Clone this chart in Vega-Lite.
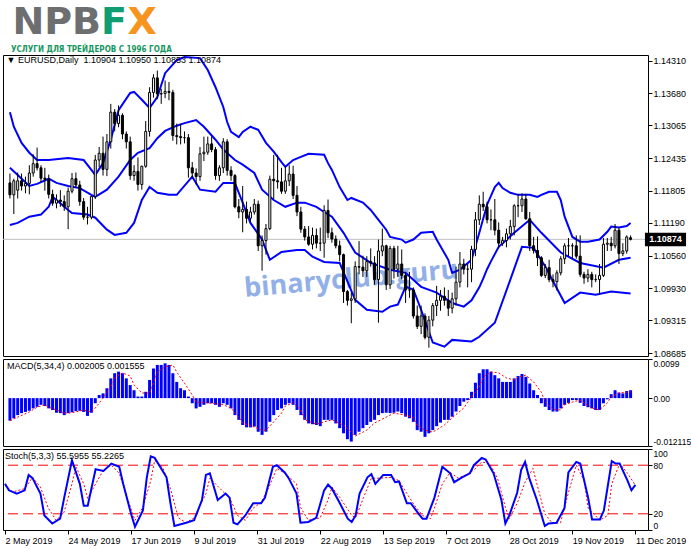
{
  "$schema": "https://vega.github.io/schema/vega-lite/v6.json",
  "description": "EURUSD Daily with Bollinger bands, MACD(5,34,4) and Stoch(5,3,3)",
  "background": "white",
  "padding": 0,
  "spacing": 3,
  "bounds": "flush",
  "datasets": {
    "candles": [
      {"i":0,"o":1.1196,"h":1.1214,"l":1.1166,"c":1.1173,"m":-0.0057},
      {"i":1,"o":1.1173,"h":1.1204,"l":1.1136,"c":1.1200,"m":-0.0051},
      {"i":2,"o":1.1182,"h":1.1216,"l":1.1166,"c":1.1200,"m":-0.0043},
      {"i":3,"o":1.1200,"h":1.1214,"l":1.1181,"c":1.1190,"m":-0.0038},
      {"i":4,"o":1.1190,"h":1.1208,"l":1.1176,"c":1.1195,"m":-0.0035},
      {"i":5,"o":1.1195,"h":1.1230,"l":1.1174,"c":1.1215,"m":-0.0032},
      {"i":6,"o":1.1215,"h":1.1251,"l":1.1208,"c":1.1233,"m":-0.0026},
      {"i":7,"o":1.1233,"h":1.1264,"l":1.1220,"c":1.1225,"m":-0.0022},
      {"i":8,"o":1.1225,"h":1.1230,"l":1.1197,"c":1.1205,"m":-0.0017},
      {"i":9,"o":1.1205,"h":1.1225,"l":1.1181,"c":1.1203,"m":-0.0020},
      {"i":10,"o":1.1203,"h":1.1212,"l":1.1166,"c":1.1174,"m":-0.0026},
      {"i":11,"o":1.1174,"h":1.1183,"l":1.1152,"c":1.1157,"m":-0.0030},
      {"i":12,"o":1.1157,"h":1.1174,"l":1.1147,"c":1.1163,"m":-0.0037},
      {"i":13,"o":1.1163,"h":1.1182,"l":1.1150,"c":1.1160,"m":-0.0038},
      {"i":14,"o":1.1160,"h":1.1172,"l":1.1142,"c":1.1150,"m":-0.0043},
      {"i":15,"o":1.1150,"h":1.1187,"l":1.1107,"c":1.1180,"m":-0.0038},
      {"i":16,"o":1.1180,"h":1.1215,"l":1.1176,"c":1.1204,"m":-0.0036},
      {"i":17,"o":1.1204,"h":1.1216,"l":1.1186,"c":1.1192,"m":-0.0033},
      {"i":18,"o":1.1192,"h":1.1200,"l":1.1152,"c":1.1160,"m":-0.0032},
      {"i":19,"o":1.1160,"h":1.1167,"l":1.1125,"c":1.1130,"m":-0.0035},
      {"i":20,"o":1.1130,"h":1.1150,"l":1.1116,"c":1.1130,"m":-0.0045},
      {"i":21,"o":1.1130,"h":1.1170,"l":1.1126,"c":1.1170,"m":-0.0037},
      {"i":22,"o":1.1170,"h":1.1250,"l":1.1165,"c":1.1240,"m":-0.0013},
      {"i":23,"o":1.1240,"h":1.1265,"l":1.1226,"c":1.1253,"m":0.0008},
      {"i":24,"o":1.1253,"h":1.1285,"l":1.1210,"c":1.1222,"m":0.0012},
      {"i":25,"o":1.1222,"h":1.1290,"l":1.1209,"c":1.1275,"m":0.0025},
      {"i":26,"o":1.1275,"h":1.1348,"l":1.1262,"c":1.1332,"m":0.0050},
      {"i":27,"o":1.1332,"h":1.1338,"l":1.1295,"c":1.1310,"m":0.0063},
      {"i":28,"o":1.1310,"h":1.1345,"l":1.1303,"c":1.1326,"m":0.0067},
      {"i":29,"o":1.1326,"h":1.1330,"l":1.1280,"c":1.1290,"m":0.0063},
      {"i":30,"o":1.1290,"h":1.1295,"l":1.1262,"c":1.1275,"m":0.0050},
      {"i":31,"o":1.1275,"h":1.1285,"l":1.1202,"c":1.1210,"m":0.0033},
      {"i":32,"o":1.1210,"h":1.1230,"l":1.1200,"c":1.1218,"m":0.0020},
      {"i":33,"o":1.1218,"h":1.1245,"l":1.1181,"c":1.1193,"m":0.0004},
      {"i":34,"o":1.1193,"h":1.1229,"l":1.1183,"c":1.1228,"m":0.0004},
      {"i":35,"o":1.1228,"h":1.1315,"l":1.1225,"c":1.1295,"m":0.0016},
      {"i":36,"o":1.1295,"h":1.1380,"l":1.1285,"c":1.1370,"m":0.0046},
      {"i":37,"o":1.1370,"h":1.1405,"l":1.1360,"c":1.1398,"m":0.0075},
      {"i":38,"o":1.1398,"h":1.1412,"l":1.1357,"c":1.1367,"m":0.0084},
      {"i":39,"o":1.1367,"h":1.1377,"l":1.1348,"c":1.1368,"m":0.0084},
      {"i":40,"o":1.1368,"h":1.1393,"l":1.1359,"c":1.1372,"m":0.0088},
      {"i":41,"o":1.1372,"h":1.1390,"l":1.1355,"c":1.1370,"m":0.0084},
      {"i":42,"o":1.1370,"h":1.1375,"l":1.1277,"c":1.1287,"m":0.0063},
      {"i":43,"o":1.1287,"h":1.1310,"l":1.1270,"c":1.1285,"m":0.0041},
      {"i":44,"o":1.1285,"h":1.1310,"l":1.1270,"c":1.1283,"m":0.0025},
      {"i":45,"o":1.1283,"h":1.1295,"l":1.1272,"c":1.1283,"m":0.0020},
      {"i":46,"o":1.1283,"h":1.1290,"l":1.1206,"c":1.1225,"m":0.0004},
      {"i":47,"o":1.1225,"h":1.1236,"l":1.1205,"c":1.1215,"m":-0.0013},
      {"i":48,"o":1.1215,"h":1.1224,"l":1.1193,"c":1.1208,"m":-0.0026},
      {"i":49,"o":1.1208,"h":1.1265,"l":1.1200,"c":1.1252,"m":-0.0022},
      {"i":50,"o":1.1252,"h":1.1285,"l":1.1238,"c":1.1255,"m":-0.0017},
      {"i":51,"o":1.1255,"h":1.1285,"l":1.1250,"c":1.1271,"m":-0.0013},
      {"i":52,"o":1.1271,"h":1.1285,"l":1.1255,"c":1.1260,"m":-0.0013},
      {"i":53,"o":1.1260,"h":1.1265,"l":1.1202,"c":1.1210,"m":-0.0017},
      {"i":54,"o":1.1210,"h":1.1230,"l":1.1200,"c":1.1225,"m":-0.0022},
      {"i":55,"o":1.1225,"h":1.1282,"l":1.1215,"c":1.1275,"m":-0.0013},
      {"i":56,"o":1.1275,"h":1.1280,"l":1.1210,"c":1.1220,"m":-0.0017},
      {"i":57,"o":1.1220,"h":1.1228,"l":1.1200,"c":1.1210,"m":-0.0026},
      {"i":58,"o":1.1210,"h":1.1213,"l":1.1147,"c":1.1150,"m":-0.0043},
      {"i":59,"o":1.1150,"h":1.1165,"l":1.1128,"c":1.1140,"m":-0.0055},
      {"i":60,"o":1.1140,"h":1.1190,"l":1.1101,"c":1.1145,"m":-0.0068},
      {"i":61,"o":1.1145,"h":1.1160,"l":1.1118,"c":1.1128,"m":-0.0074},
      {"i":62,"o":1.1128,"h":1.1150,"l":1.1120,"c":1.1140,"m":-0.0074},
      {"i":63,"o":1.1140,"h":1.1165,"l":1.1135,"c":1.1155,"m":-0.0072},
      {"i":64,"o":1.1155,"h":1.1162,"l":1.1065,"c":1.1075,"m":-0.0085},
      {"i":65,"o":1.1075,"h":1.1095,"l":1.1027,"c":1.1085,"m":-0.0093},
      {"i":66,"o":1.1085,"h":1.1117,"l":1.1058,"c":1.1108,"m":-0.0085},
      {"i":67,"o":1.1108,"h":1.1210,"l":1.1105,"c":1.1203,"m":-0.0060},
      {"i":68,"o":1.1203,"h":1.1250,"l":1.1165,"c":1.1200,"m":-0.0043},
      {"i":69,"o":1.1200,"h":1.1250,"l":1.1185,"c":1.1198,"m":-0.0030},
      {"i":70,"o":1.1198,"h":1.1225,"l":1.1175,"c":1.1180,"m":-0.0026},
      {"i":71,"o":1.1180,"h":1.1228,"l":1.1175,"c":1.1200,"m":-0.0017},
      {"i":72,"o":1.1200,"h":1.1230,"l":1.1190,"c":1.1213,"m":-0.0013},
      {"i":73,"o":1.1213,"h":1.1229,"l":1.1165,"c":1.1172,"m":-0.0017},
      {"i":74,"o":1.1172,"h":1.1190,"l":1.1132,"c":1.1140,"m":-0.0030},
      {"i":75,"o":1.1140,"h":1.1150,"l":1.1100,"c":1.1107,"m":-0.0043},
      {"i":76,"o":1.1107,"h":1.1113,"l":1.1085,"c":1.1092,"m":-0.0055},
      {"i":77,"o":1.1092,"h":1.1113,"l":1.1075,"c":1.1078,"m":-0.0064},
      {"i":78,"o":1.1078,"h":1.1110,"l":1.1068,"c":1.1095,"m":-0.0066},
      {"i":79,"o":1.1095,"h":1.1108,"l":1.1070,"c":1.1080,"m":-0.0068},
      {"i":80,"o":1.1080,"h":1.1110,"l":1.1065,"c":1.1080,"m":-0.0071},
      {"i":81,"o":1.1080,"h":1.1153,"l":1.1052,"c":1.1143,"m":-0.0055},
      {"i":82,"o":1.1143,"h":1.1164,"l":1.1090,"c":1.1100,"m":-0.0055},
      {"i":83,"o":1.1100,"h":1.1110,"l":1.1081,"c":1.1088,"m":-0.0055},
      {"i":84,"o":1.1088,"h":1.1095,"l":1.1070,"c":1.1075,"m":-0.0064},
      {"i":85,"o":1.1075,"h":1.1085,"l":1.1045,"c":1.1058,"m":-0.0076},
      {"i":86,"o":1.1058,"h":1.1060,"l":1.0965,"c":1.0987,"m":-0.0089},
      {"i":87,"o":1.0987,"h":1.0990,"l":1.0960,"c":1.0970,"m":-0.0104},
      {"i":88,"o":1.0970,"h":1.0985,"l":1.0926,"c":1.0973,"m":-0.0110},
      {"i":89,"o":1.0973,"h":1.1045,"l":1.0965,"c":1.1035,"m":-0.0093},
      {"i":90,"o":1.1035,"h":1.1084,"l":1.1020,"c":1.1034,"m":-0.0085},
      {"i":91,"o":1.1034,"h":1.1056,"l":1.1015,"c":1.1027,"m":-0.0076},
      {"i":92,"o":1.1027,"h":1.1055,"l":1.1015,"c":1.1045,"m":-0.0068},
      {"i":93,"o":1.1045,"h":1.1070,"l":1.1035,"c":1.1042,"m":-0.0060},
      {"i":94,"o":1.1042,"h":1.1055,"l":1.1000,"c":1.1010,"m":-0.0055},
      {"i":95,"o":1.1010,"h":1.1087,"l":1.0927,"c":1.1065,"m":-0.0043},
      {"i":96,"o":1.1065,"h":1.1108,"l":1.1055,"c":1.1075,"m":-0.0038},
      {"i":97,"o":1.1075,"h":1.1077,"l":1.0990,"c":1.1000,"m":-0.0037},
      {"i":98,"o":1.1000,"h":1.1075,"l":1.0992,"c":1.1070,"m":-0.0038},
      {"i":99,"o":1.1070,"h":1.1075,"l":1.1012,"c":1.1030,"m":-0.0037},
      {"i":100,"o":1.1030,"h":1.1075,"l":1.1015,"c":1.1040,"m":-0.0034},
      {"i":101,"o":1.1040,"h":1.1068,"l":1.1010,"c":1.1018,"m":-0.0038},
      {"i":102,"o":1.1018,"h":1.1025,"l":1.0965,"c":1.0990,"m":-0.0047},
      {"i":103,"o":1.0990,"h":1.1025,"l":1.0975,"c":1.0990,"m":-0.0051},
      {"i":104,"o":1.0990,"h":1.0995,"l":1.0935,"c":1.0940,"m":-0.0060},
      {"i":105,"o":1.0940,"h":1.0960,"l":1.0915,"c":1.0920,"m":-0.0081},
      {"i":106,"o":1.0920,"h":1.0960,"l":1.0905,"c":1.0940,"m":-0.0085},
      {"i":107,"o":1.0940,"h":1.0945,"l":1.0895,"c":1.0899,"m":-0.0098},
      {"i":108,"o":1.0899,"h":1.0940,"l":1.0879,"c":1.0932,"m":-0.0089},
      {"i":109,"o":1.0932,"h":1.0965,"l":1.0920,"c":1.0960,"m":-0.0081},
      {"i":110,"o":1.0960,"h":1.0998,"l":1.0940,"c":1.0970,"m":-0.0071},
      {"i":111,"o":1.0970,"h":1.0990,"l":1.0950,"c":1.0978,"m":-0.0062},
      {"i":112,"o":1.0978,"h":1.0995,"l":1.0960,"c":1.0970,"m":-0.0055},
      {"i":113,"o":1.0970,"h":1.0990,"l":1.0940,"c":1.0955,"m":-0.0055},
      {"i":114,"o":1.0955,"h":1.0985,"l":1.0945,"c":1.0973,"m":-0.0047},
      {"i":115,"o":1.0973,"h":1.1035,"l":1.0960,"c":1.1005,"m":-0.0034},
      {"i":116,"o":1.1005,"h":1.1063,"l":1.0995,"c":1.1040,"m":-0.0020},
      {"i":117,"o":1.1040,"h":1.1050,"l":1.1020,"c":1.1030,"m":-0.0009},
      {"i":118,"o":1.1030,"h":1.1040,"l":1.0995,"c":1.1030,"m":-0.0005},
      {"i":119,"o":1.1030,"h":1.1075,"l":1.1005,"c":1.1068,"m":0.0016},
      {"i":120,"o":1.1068,"h":1.1140,"l":1.1055,"c":1.1125,"m":0.0039},
      {"i":121,"o":1.1125,"h":1.1172,"l":1.1115,"c":1.1155,"m":0.0063},
      {"i":122,"o":1.1155,"h":1.1179,"l":1.1142,"c":1.1150,"m":0.0073},
      {"i":123,"o":1.1150,"h":1.1160,"l":1.1118,"c":1.1125,"m":0.0073},
      {"i":124,"o":1.1125,"h":1.1145,"l":1.1105,"c":1.1125,"m":0.0067},
      {"i":125,"o":1.1125,"h":1.1165,"l":1.1095,"c":1.1105,"m":0.0058},
      {"i":126,"o":1.1105,"h":1.1120,"l":1.1070,"c":1.1080,"m":0.0050},
      {"i":127,"o":1.1080,"h":1.1092,"l":1.1075,"c":1.1085,"m":0.0041},
      {"i":128,"o":1.1085,"h":1.1108,"l":1.1072,"c":1.1098,"m":0.0041},
      {"i":129,"o":1.1098,"h":1.1125,"l":1.1087,"c":1.1112,"m":0.0041},
      {"i":130,"o":1.1112,"h":1.1155,"l":1.1095,"c":1.1152,"m":0.0050},
      {"i":131,"o":1.1152,"h":1.1175,"l":1.1130,"c":1.1152,"m":0.0056},
      {"i":132,"o":1.1152,"h":1.1176,"l":1.1140,"c":1.1165,"m":0.0061},
      {"i":133,"o":1.1165,"h":1.1175,"l":1.1125,"c":1.1127,"m":0.0054},
      {"i":134,"o":1.1127,"h":1.1140,"l":1.1065,"c":1.1075,"m":0.0037},
      {"i":135,"o":1.1075,"h":1.1092,"l":1.1060,"c":1.1066,"m":0.0020},
      {"i":136,"o":1.1066,"h":1.1093,"l":1.1036,"c":1.1052,"m":0.0008},
      {"i":137,"o":1.1052,"h":1.1055,"l":1.1015,"c":1.1018,"m":-0.0013},
      {"i":138,"o":1.1018,"h":1.1040,"l":1.1013,"c":1.1033,"m":-0.0022},
      {"i":139,"o":1.1033,"h":1.1048,"l":1.1005,"c":1.1010,"m":-0.0030},
      {"i":140,"o":1.1010,"h":1.1020,"l":1.0995,"c":1.1006,"m":-0.0034},
      {"i":141,"o":1.1006,"h":1.1028,"l":1.0989,"c":1.1023,"m":-0.0034},
      {"i":142,"o":1.1023,"h":1.1055,"l":1.1018,"c":1.1050,"m":-0.0026},
      {"i":143,"o":1.1050,"h":1.1080,"l":1.1040,"c":1.1075,"m":-0.0017},
      {"i":144,"o":1.1075,"h":1.1090,"l":1.1055,"c":1.1075,"m":-0.0012},
      {"i":145,"o":1.1075,"h":1.1080,"l":1.1050,"c":1.1075,"m":-0.0005},
      {"i":146,"o":1.1075,"h":1.1095,"l":1.1050,"c":1.1055,"m":-0.0005},
      {"i":147,"o":1.1055,"h":1.1095,"l":1.1015,"c":1.1020,"m":-0.0012},
      {"i":148,"o":1.1020,"h":1.1025,"l":1.1002,"c":1.1013,"m":-0.0020},
      {"i":149,"o":1.1013,"h":1.1030,"l":1.1005,"c":1.1020,"m":-0.0023},
      {"i":150,"o":1.1020,"h":1.1025,"l":1.0995,"c":1.1010,"m":-0.0026},
      {"i":151,"o":1.1010,"h":1.1020,"l":1.1005,"c":1.1010,"m":-0.0030},
      {"i":152,"o":1.1010,"h":1.1040,"l":1.0981,"c":1.1018,"m":-0.0030},
      {"i":153,"o":1.1018,"h":1.1090,"l":1.1015,"c":1.1078,"m":-0.0013},
      {"i":154,"o":1.1078,"h":1.1090,"l":1.1065,"c":1.1080,"m":-0.0003},
      {"i":155,"o":1.1080,"h":1.1092,"l":1.1065,"c":1.1075,"m":0.0010},
      {"i":156,"o":1.1075,"h":1.1117,"l":1.1070,"c":1.1105,"m":0.0020},
      {"i":157,"o":1.1105,"h":1.1110,"l":1.1040,"c":1.1060,"m":0.0014},
      {"i":158,"o":1.1060,"h":1.1080,"l":1.1055,"c":1.1065,"m":0.0012},
      {"i":159,"o":1.1065,"h":1.1095,"l":1.1060,"c":1.1092,"m":0.0018},
      {"i":160,"o":1.10904,"h":1.10950,"l":1.10853,"c":1.10874,"m":0.002005}
    ],
    "bands": [
      {"i":0,"b":"up","v":1.1332},{"i":1,"b":"up","v":1.1304},{"i":3,"b":"up","v":1.1273},{"i":5,"b":"up","v":1.1254},
      {"i":7,"b":"up","v":1.1240},{"i":10,"b":"up","v":1.1240},{"i":15,"b":"up","v":1.1244},{"i":19,"b":"up","v":1.1240},
      {"i":21,"b":"up","v":1.1221},{"i":22,"b":"up","v":1.1211},{"i":24,"b":"up","v":1.1234},{"i":26,"b":"up","v":1.1279},
      {"i":28,"b":"up","v":1.1336},{"i":31,"b":"up","v":1.1369},{"i":32,"b":"up","v":1.1371},{"i":34,"b":"up","v":1.1356},
      {"i":36,"b":"up","v":1.1340},{"i":38,"b":"up","v":1.1361},{"i":40,"b":"up","v":1.1407},{"i":43,"b":"up","v":1.1432},
      {"i":45,"b":"up","v":1.1438},{"i":49,"b":"up","v":1.1436},{"i":51,"b":"up","v":1.1413},{"i":53,"b":"up","v":1.1380},
      {"i":55,"b":"up","v":1.1342},{"i":56,"b":"up","v":1.1313},{"i":57,"b":"up","v":1.1294},{"i":59,"b":"up","v":1.1284},
      {"i":60,"b":"up","v":1.1294},{"i":62,"b":"up","v":1.1304},{"i":64,"b":"up","v":1.1298},{"i":66,"b":"up","v":1.1273},
      {"i":68,"b":"up","v":1.1256},{"i":70,"b":"up","v":1.1236},{"i":71,"b":"up","v":1.1227},{"i":73,"b":"up","v":1.1240},
      {"i":75,"b":"up","v":1.1246},{"i":77,"b":"up","v":1.1252},{"i":81,"b":"up","v":1.1250},{"i":82,"b":"up","v":1.1234},
      {"i":83,"b":"up","v":1.1221},{"i":85,"b":"up","v":1.1188},{"i":87,"b":"up","v":1.1163},{"i":88,"b":"up","v":1.1167},
      {"i":91,"b":"up","v":1.1158},{"i":93,"b":"up","v":1.1144},{"i":95,"b":"up","v":1.1125},{"i":97,"b":"up","v":1.1106},
      {"i":98,"b":"up","v":1.1092},{"i":101,"b":"up","v":1.1087},{"i":102,"b":"up","v":1.1081},{"i":104,"b":"up","v":1.1087},
      {"i":106,"b":"up","v":1.1100},{"i":109,"b":"up","v":1.1102},{"i":110,"b":"up","v":1.1087},{"i":113,"b":"up","v":1.1048},
      {"i":114,"b":"up","v":1.1023},{"i":116,"b":"up","v":1.1029},{"i":119,"b":"up","v":1.1048},{"i":121,"b":"up","v":1.1100},
      {"i":123,"b":"up","v":1.1154},{"i":125,"b":"up","v":1.1188},{"i":126,"b":"up","v":1.1196},{"i":127,"b":"up","v":1.1186},
      {"i":129,"b":"up","v":1.1177},{"i":131,"b":"up","v":1.1173},{"i":134,"b":"up","v":1.1173},{"i":136,"b":"up","v":1.1169},
      {"i":137,"b":"up","v":1.1173},{"i":139,"b":"up","v":1.1179},{"i":141,"b":"up","v":1.1179},{"i":142,"b":"up","v":1.1163},
      {"i":143,"b":"up","v":1.1131},{"i":145,"b":"up","v":1.1092},{"i":147,"b":"up","v":1.1083},{"i":149,"b":"up","v":1.1083},
      {"i":152,"b":"up","v":1.1087},{"i":154,"b":"up","v":1.1102},{"i":155,"b":"up","v":1.1112},{"i":157,"b":"up","v":1.1110},
      {"i":159,"b":"up","v":1.1113},{"i":160,"b":"up","v":1.1119},
      {"i":0,"b":"mid","v":1.1225},{"i":2,"b":"mid","v":1.1211},{"i":5,"b":"mid","v":1.1190},{"i":7,"b":"mid","v":1.1194},
      {"i":10,"b":"mid","v":1.1204},{"i":12,"b":"mid","v":1.1196},{"i":15,"b":"mid","v":1.1190},{"i":18,"b":"mid","v":1.1186},
      {"i":21,"b":"mid","v":1.1173},{"i":22,"b":"mid","v":1.1169},{"i":25,"b":"mid","v":1.1183},{"i":28,"b":"mid","v":1.1208},
      {"i":31,"b":"mid","v":1.1240},{"i":33,"b":"mid","v":1.1254},{"i":36,"b":"mid","v":1.1263},{"i":38,"b":"mid","v":1.1282},
      {"i":40,"b":"mid","v":1.1296},{"i":43,"b":"mid","v":1.1306},{"i":45,"b":"mid","v":1.1311},{"i":48,"b":"mid","v":1.1317},
      {"i":50,"b":"mid","v":1.1304},{"i":53,"b":"mid","v":1.1279},{"i":55,"b":"mid","v":1.1260},{"i":58,"b":"mid","v":1.1240},
      {"i":60,"b":"mid","v":1.1231},{"i":63,"b":"mid","v":1.1215},{"i":65,"b":"mid","v":1.1183},{"i":68,"b":"mid","v":1.1163},
      {"i":71,"b":"mid","v":1.1150},{"i":74,"b":"mid","v":1.1158},{"i":76,"b":"mid","v":1.1158},{"i":79,"b":"mid","v":1.1150},
      {"i":81,"b":"mid","v":1.1140},{"i":83,"b":"mid","v":1.1131},{"i":86,"b":"mid","v":1.1100},{"i":89,"b":"mid","v":1.1062},
      {"i":93,"b":"mid","v":1.1042},{"i":98,"b":"mid","v":1.1029},{"i":102,"b":"mid","v":1.1023},{"i":106,"b":"mid","v":1.0996},
      {"i":110,"b":"mid","v":1.0985},{"i":114,"b":"mid","v":1.0965},{"i":117,"b":"mid","v":1.0958},{"i":119,"b":"mid","v":1.0970},
      {"i":121,"b":"mid","v":1.0995},{"i":122,"b":"mid","v":1.1012},{"i":123,"b":"mid","v":1.1030},{"i":124,"b":"mid","v":1.1045},
      {"i":126,"b":"mid","v":1.1073},{"i":130,"b":"mid","v":1.1100},{"i":134,"b":"mid","v":1.1125},{"i":137,"b":"mid","v":1.1100},
      {"i":142,"b":"mid","v":1.1062},{"i":147,"b":"mid","v":1.1042},{"i":153,"b":"mid","v":1.1033},{"i":157,"b":"mid","v":1.1048},
      {"i":160,"b":"mid","v":1.1052},
      {"i":0,"b":"lo","v":1.1115},{"i":2,"b":"lo","v":1.1119},{"i":5,"b":"lo","v":1.1131},{"i":8,"b":"lo","v":1.1135},
      {"i":10,"b":"lo","v":1.1150},{"i":11,"b":"lo","v":1.1169},{"i":12,"b":"lo","v":1.1163},{"i":15,"b":"lo","v":1.1144},
      {"i":16,"b":"lo","v":1.1138},{"i":20,"b":"lo","v":1.1135},{"i":22,"b":"lo","v":1.1129},{"i":25,"b":"lo","v":1.1106},
      {"i":27,"b":"lo","v":1.1096},{"i":30,"b":"lo","v":1.1100},{"i":32,"b":"lo","v":1.1119},{"i":34,"b":"lo","v":1.1163},
      {"i":36,"b":"lo","v":1.1188},{"i":38,"b":"lo","v":1.1177},{"i":41,"b":"lo","v":1.1173},{"i":43,"b":"lo","v":1.1173},
      {"i":47,"b":"lo","v":1.1208},{"i":49,"b":"lo","v":1.1183},{"i":53,"b":"lo","v":1.1179},{"i":55,"b":"lo","v":1.1196},
      {"i":58,"b":"lo","v":1.1196},{"i":60,"b":"lo","v":1.1158},{"i":62,"b":"lo","v":1.1119},{"i":65,"b":"lo","v":1.1087},
      {"i":67,"b":"lo","v":1.1048},{"i":70,"b":"lo","v":1.1063},{"i":74,"b":"lo","v":1.1067},{"i":76,"b":"lo","v":1.1067},
      {"i":78,"b":"lo","v":1.1054},{"i":81,"b":"lo","v":1.1044},{"i":85,"b":"lo","v":1.1042},{"i":89,"b":"lo","v":1.0971},
      {"i":92,"b":"lo","v":1.0952},{"i":96,"b":"lo","v":1.0948},{"i":98,"b":"lo","v":1.0958},{"i":100,"b":"lo","v":1.0962},
      {"i":102,"b":"lo","v":1.0996},{"i":104,"b":"lo","v":1.0991},{"i":106,"b":"lo","v":1.0952},{"i":109,"b":"lo","v":1.0889},
      {"i":112,"b":"lo","v":1.0881},{"i":114,"b":"lo","v":1.0894},{"i":119,"b":"lo","v":1.0891},{"i":121,"b":"lo","v":1.0900},
      {"i":125,"b":"lo","v":1.0927},{"i":129,"b":"lo","v":1.1010},{"i":132,"b":"lo","v":1.1073},{"i":135,"b":"lo","v":1.1071},
      {"i":138,"b":"lo","v":1.1035},{"i":143,"b":"lo","v":1.0965},{"i":147,"b":"lo","v":1.0985},{"i":151,"b":"lo","v":1.0981},
      {"i":155,"b":"lo","v":1.0987},{"i":160,"b":"lo","v":1.0983}
    ],
    "signal": [
      {"i":0,"v":-0.0057},{"i":2,"v":-0.0048},{"i":5,"v":-0.0035},{"i":7,"v":-0.0023},{"i":9,"v":-0.0017},{"i":10,"v":-0.0023},
      {"i":12,"v":-0.0030},{"i":14,"v":-0.0038},{"i":15,"v":-0.0038},{"i":17,"v":-0.0035},{"i":19,"v":-0.0030},{"i":21,"v":-0.0035},
      {"i":22,"v":-0.0025},{"i":24,"v":0.0000},{"i":26,"v":0.0028},{"i":27,"v":0.0051},{"i":29,"v":0.0064},{"i":31,"v":0.0056},
      {"i":32,"v":0.0033},{"i":34,"v":0.0013},{"i":36,"v":0.0013},{"i":37,"v":0.0038},{"i":38,"v":0.0066},{"i":40,"v":0.0079},
      {"i":42,"v":0.0084},{"i":43,"v":0.0066},{"i":45,"v":0.0038},{"i":47,"v":0.0008},{"i":48,"v":-0.0010},{"i":51,"v":-0.0012},
      {"i":54,"v":-0.0015},{"i":55,"v":-0.0017},{"i":57,"v":-0.0025},{"i":59,"v":-0.0048},{"i":60,"v":-0.0063},{"i":63,"v":-0.0073},
      {"i":65,"v":-0.0081},{"i":66,"v":-0.0081},{"i":68,"v":-0.0060},{"i":70,"v":-0.0038},{"i":71,"v":-0.0020},{"i":73,"v":-0.0012},
      {"i":75,"v":-0.0030},{"i":76,"v":-0.0055},{"i":79,"v":-0.0066},{"i":81,"v":-0.0060},{"i":83,"v":-0.0055},{"i":86,"v":-0.0068},
      {"i":88,"v":-0.0086},{"i":89,"v":-0.0096},{"i":92,"v":-0.0081},{"i":94,"v":-0.0063},{"i":97,"v":-0.0048},{"i":99,"v":-0.0038},
      {"i":102,"v":-0.0043},{"i":104,"v":-0.0050},{"i":105,"v":-0.0068},{"i":107,"v":-0.0081},{"i":109,"v":-0.0086},{"i":112,"v":-0.0068},
      {"i":114,"v":-0.0050},{"i":117,"v":-0.0025},{"i":119,"v":0.0003},{"i":121,"v":0.0028},{"i":122,"v":0.0053},{"i":124,"v":0.0066},
      {"i":126,"v":0.0064},{"i":128,"v":0.0051},{"i":130,"v":0.0046},{"i":131,"v":0.0053},{"i":133,"v":0.0058},{"i":135,"v":0.0041},
      {"i":137,"v":0.0015},{"i":138,"v":-0.0010},{"i":140,"v":-0.0028},{"i":142,"v":-0.0030},{"i":143,"v":-0.0017},{"i":145,"v":-0.0010},
      {"i":147,"v":-0.0005},{"i":148,"v":-0.0012},{"i":150,"v":-0.0025},{"i":152,"v":-0.0030},{"i":154,"v":-0.0012},{"i":155,"v":0.0003},
      {"i":157,"v":0.0013},{"i":159,"v":0.0015},{"i":160,"v":0.001555}
    ],
    "stochK": [
      {"i":0,"v":57},{"i":1,"v":49},{"i":3,"v":45},{"i":5,"v":49},{"i":6,"v":68},{"i":7,"v":64},{"i":9,"v":45},{"i":10,"v":18},
      {"i":12,"v":8},{"i":14,"v":14},{"i":15,"v":39},{"i":17,"v":86},{"i":19,"v":57},{"i":20,"v":30},{"i":21,"v":30},{"i":23,"v":75},
      {"i":25,"v":73},{"i":27,"v":82},{"i":29,"v":78},{"i":30,"v":57},{"i":32,"v":20},{"i":33,"v":4},{"i":35,"v":24},{"i":36,"v":65},
      {"i":37,"v":91},{"i":38,"v":89},{"i":41,"v":65},{"i":42,"v":33},{"i":43,"v":5},{"i":46,"v":9},{"i":48,"v":12},{"i":50,"v":37},
      {"i":51,"v":68},{"i":52,"v":70},{"i":54,"v":37},{"i":56,"v":45},{"i":57,"v":40},{"i":58,"v":9},{"i":59,"v":7},{"i":61,"v":18},
      {"i":63,"v":33},{"i":65,"v":33},{"i":66,"v":40},{"i":68,"v":78},{"i":69,"v":80},{"i":71,"v":71},{"i":72,"v":64},{"i":74,"v":45},
      {"i":75,"v":9},{"i":77,"v":10},{"i":79,"v":15},{"i":81,"v":49},{"i":82,"v":56},{"i":83,"v":51},{"i":85,"v":33},{"i":87,"v":14},
      {"i":88,"v":10},{"i":89,"v":18},{"i":90,"v":45},{"i":92,"v":65},{"i":93,"v":69},{"i":94,"v":57},{"i":96,"v":68},{"i":98,"v":68},
      {"i":99,"v":59},{"i":100,"v":60},{"i":102,"v":33},{"i":103,"v":33},{"i":105,"v":20},{"i":106,"v":14},{"i":107,"v":14},{"i":109,"v":40},
      {"i":111,"v":78},{"i":113,"v":70},{"i":114,"v":59},{"i":116,"v":65},{"i":118,"v":70},{"i":119,"v":80},{"i":121,"v":89},{"i":122,"v":87},
      {"i":124,"v":70},{"i":126,"v":37},{"i":127,"v":8},{"i":128,"v":18},{"i":130,"v":46},{"i":131,"v":74},{"i":132,"v":84},{"i":133,"v":65},
      {"i":135,"v":37},{"i":137,"v":5},{"i":138,"v":8},{"i":140,"v":9},{"i":142,"v":27},{"i":143,"v":71},{"i":145,"v":84},{"i":146,"v":82},
      {"i":148,"v":40},{"i":149,"v":13},{"i":151,"v":13},{"i":152,"v":24},{"i":154,"v":85},{"i":155,"v":82},{"i":156,"v":82},{"i":158,"v":61},
      {"i":159,"v":49},{"i":160,"v":55.5955}
    ],
    "stochD": [
      {"i":0,"v":55},{"i":2,"v":47},{"i":5,"v":51},{"i":7,"v":65},{"i":9,"v":53},{"i":11,"v":27},{"i":13,"v":12},{"i":15,"v":22},
      {"i":17,"v":57},{"i":18,"v":78},{"i":20,"v":57},{"i":21,"v":39},{"i":23,"v":57},{"i":25,"v":74},{"i":27,"v":80},{"i":29,"v":70},
      {"i":31,"v":40},{"i":33,"v":12},{"i":35,"v":28},{"i":37,"v":61},{"i":38,"v":86},{"i":40,"v":78},{"i":42,"v":51},{"i":44,"v":15},
      {"i":46,"v":9},{"i":48,"v":15},{"i":51,"v":45},{"i":52,"v":64},{"i":55,"v":49},{"i":57,"v":40},{"i":59,"v":18},{"i":61,"v":12},
      {"i":63,"v":27},{"i":65,"v":34},{"i":67,"v":53},{"i":69,"v":76},{"i":71,"v":70},{"i":74,"v":57},{"i":75,"v":28},{"i":77,"v":12},
      {"i":80,"v":15},{"i":82,"v":37},{"i":83,"v":53},{"i":85,"v":40},{"i":88,"v":18},{"i":89,"v":15},{"i":91,"v":40},{"i":93,"v":64},
      {"i":95,"v":64},{"i":98,"v":65},{"i":100,"v":61},{"i":102,"v":45},{"i":104,"v":30},{"i":106,"v":18},{"i":108,"v":14},{"i":109,"v":27},
      {"i":111,"v":57},{"i":113,"v":71},{"i":115,"v":64},{"i":117,"v":68},{"i":119,"v":74},{"i":121,"v":84},{"i":123,"v":82},{"i":125,"v":64},
      {"i":127,"v":28},{"i":128,"v":14},{"i":130,"v":33},{"i":132,"v":59},{"i":134,"v":76},{"i":135,"v":57},{"i":137,"v":20},{"i":139,"v":8},
      {"i":141,"v":9},{"i":143,"v":46},{"i":145,"v":80},{"i":147,"v":61},{"i":148,"v":27},{"i":151,"v":12},{"i":153,"v":18},{"i":154,"v":57},
      {"i":156,"v":82},{"i":158,"v":70},{"i":160,"v":55.2265}
    ]
  },
  "vconcat": [
    {
      "width": 196,
      "height": 52,
      "view": {"stroke": null},
      "title": {
        "text": "УСЛУГИ ДЛЯ ТРЕЙДЕРОВ С 1996 ГОДА",
        "orient": "bottom",
        "anchor": "start",
        "offset": -6,
        "dx": 8,
        "font": "DejaVu Sans Condensed, Liberation Sans Narrow, DejaVu Sans",
        "fontSize": 8,
        "fontWeight": "bold",
        "color": "#16965f"
      },
      "layer": [
        {
          "data": {"values": [{"t": "NPB"}]},
          "mark": {"type": "text", "align": "right", "baseline": "middle", "dy": -3, "font": "DejaVu Sans", "fontWeight": "bold", "fontSize": 38, "color": "#6d6e70"},
          "encoding": {"text": {"field": "t"}}
        },
        {
          "data": {"values": [{"t": "F"}]},
          "mark": {"type": "text", "align": "left", "baseline": "middle", "dy": -3, "font": "DejaVu Sans", "fontWeight": "bold", "fontSize": 38, "color": "#0e9e72"},
          "encoding": {"text": {"field": "t"}}
        },
        {
          "data": {"values": [{"t": "X"}]},
          "mark": {"type": "text", "align": "left", "baseline": "middle", "dx": 26.5, "dy": -3, "font": "DejaVu Sans", "fontWeight": "bold", "fontSize": 38, "color": "#f7941d"},
          "encoding": {"text": {"field": "t"}}
        }
      ]
    },
    {
      "width": 645,
      "height": 301,
      "title": {
        "text": "▼  EURUSD,Daily \u00a01.10904 1.10950 1.10853 1.10874",
        "anchor": "start",
        "offset": -12,
        "dx": 4
      },
      "layer": [
        {
          "data": {"values": [{"wm": "binaryclub.guru"}]},
          "mark": {"type": "text", "font": "Open Sans", "fontWeight": "bold", "fontSize": 27, "color": "#4a7dd8", "opacity": 0.6, "angle": -5},
          "encoding": {
            "x": {"datum": 88, "type": "quantitative", "scale": {"domain": [-0.5, 163.2], "nice": false, "zero": false}, "axis": null},
            "y": {"datum": 1.1010, "type": "quantitative", "scale": {"domain": [1.0863, 1.1442], "nice": false, "zero": false},
                  "axis": {"orient": "right", "title": null, "format": ".5f", "labelOverlap": false, "tickCount": 30,
                           "values": [1.14310, 1.13680, 1.13065, 1.12435, 1.11805, 1.11190, 1.10560, 1.09930, 1.09315, 1.08685]}},
            "text": {"field": "wm"}
          }
        },
        {
          "data": {"values": [{}]},
          "mark": {"type": "rule", "color": "#c0c0c0", "strokeWidth": 1},
          "encoding": {"y": {"datum": 1.10874, "type": "quantitative"}}
        },
        {
          "data": {"name": "bands"},
          "mark": {"type": "line", "color": "#0000ff", "strokeWidth": 2},
          "encoding": {
            "x": {"field": "i", "type": "quantitative", "axis": null},
            "y": {"field": "v", "type": "quantitative", "title": null},
            "detail": {"field": "b"}
          }
        },
        {
          "data": {"name": "candles"},
          "mark": {"type": "rule", "color": "#000000", "strokeWidth": 1},
          "encoding": {
            "x": {"field": "i", "type": "quantitative", "axis": null},
            "y": {"field": "l", "type": "quantitative", "title": null},
            "y2": {"field": "h"}
          }
        },
        {
          "data": {"name": "candles"},
          "mark": {"type": "bar", "width": 2, "stroke": "#000000", "strokeWidth": 1},
          "encoding": {
            "x": {"field": "i", "type": "quantitative", "axis": null},
            "y": {"field": "o", "type": "quantitative", "title": null},
            "y2": {"field": "c"},
            "fill": {"condition": {"test": "datum.c >= datum.o", "value": "#ffffff"}, "value": "#000000"}
          }
        },
        {
          "data": {"values": [{}]},
          "mark": {"type": "rect", "color": "#000000"},
          "encoding": {
            "x": {"datum": 163.7, "type": "quantitative"},
            "x2": {"datum": 174.3},
            "y": {"datum": 1.1100, "type": "quantitative"},
            "y2": {"datum": 1.1074}
          }
        },
        {
          "data": {"values": [{"p": "1.10874"}]},
          "mark": {"type": "text", "color": "#ffffff", "font": "Liberation Sans", "fontSize": 9, "fontWeight": "bold", "align": "center", "baseline": "middle"},
          "encoding": {
            "x": {"datum": 169.0, "type": "quantitative"},
            "y": {"datum": 1.10874, "type": "quantitative"},
            "text": {"field": "p"}
          }
        }
      ]
    },
    {
      "width": 645,
      "height": 87,
      "title": {"text": "MACD(5,34,4) 0.002005 0.001555", "anchor": "start", "offset": -12, "dx": 4},
      "layer": [
        {
          "data": {"name": "candles"},
          "mark": {"type": "bar", "width": 3, "color": "#0000ff"},
          "encoding": {
            "x": {"field": "i", "type": "quantitative", "scale": {"domain": [-0.5, 163.2], "nice": false, "zero": false}, "axis": null},
            "y": {"field": "m", "type": "quantitative", "scale": {"domain": [-0.012115, 0.0099], "nice": false, "zero": false},
                  "axis": {"orient": "right", "title": null, "values": [0.0099, 0, -0.012115], "labelFlush": true,
                           "labelOverlap": false, "tickCount": 30, "labelFontSize": 8.5,
                           "labelExpr": "datum.value == 0 ? '0.00' : '' + datum.value"}},
            "y2": {"datum": 0}
          }
        },
        {
          "data": {"name": "signal"},
          "mark": {"type": "line", "color": "#ff0000", "strokeWidth": 1, "strokeDash": [2, 2]},
          "encoding": {
            "x": {"field": "i", "type": "quantitative", "axis": null},
            "y": {"field": "v", "type": "quantitative", "title": null}
          }
        }
      ]
    },
    {
      "width": 645,
      "height": 81,
      "title": {"text": "Stoch(5,3,3) 55.5955 55.2265", "anchor": "start", "offset": -12, "dx": 4},
      "layer": [
        {
          "data": {"values": [{"lv": 20}, {"lv": 80}]},
          "mark": {"type": "rule", "color": "#ff0000", "strokeWidth": 1, "strokeDash": [10, 5]},
          "encoding": {
            "y": {"field": "lv", "type": "quantitative", "scale": {"domain": [0, 100], "nice": false, "zero": false},
                  "axis": {"orient": "right", "title": null, "values": [100, 80, 20, 0], "labelFlush": true,
                           "labelOverlap": false, "tickCount": 30, "labelFontSize": 8.5, "labelSeparation": 0}}
          }
        },
        {
          "data": {"name": "stochD"},
          "mark": {"type": "line", "color": "#ff0000", "strokeWidth": 1, "strokeDash": [2, 2]},
          "encoding": {
            "x": {"field": "i", "type": "quantitative", "scale": {"domain": [-0.5, 163.2], "nice": false, "zero": false},
                  "axis": {"orient": "bottom", "title": null, "values": [0, 16, 32, 48, 64, 80, 96, 112, 128, 144, 160],
                           "labelAlign": "left", "labelPadding": 2, "labelBound": false, "labelOverlap": false, "tickCount": 30,
                           "labelExpr": "['2 May 2019','24 May 2019','17 Jun 2019','9 Jul 2019','31 Jul 2019','22 Aug 2019','13 Sep 2019','7 Oct 2019','28 Oct 2019','19 Nov 2019','11 Dec 2019'][round(datum.value / 16)]"}},
            "y": {"field": "v", "type": "quantitative", "title": null}
          }
        },
        {
          "data": {"name": "stochK"},
          "mark": {"type": "line", "color": "#0000ff", "strokeWidth": 2},
          "encoding": {
            "x": {"field": "i", "type": "quantitative"},
            "y": {"field": "v", "type": "quantitative", "title": null}
          }
        }
      ]
    }
  ],
  "config": {
    "view": {"stroke": "#000000", "strokeWidth": 1},
    "axis": {
      "labelFont": "Liberation Sans",
      "labelFontSize": 9,
      "labelColor": "#000000",
      "tickColor": "#000000",
      "tickSize": 4,
      "labelPadding": 1,
      "labelOverlap": false,
      "domain": false,
      "grid": false
    },
    "title": {
      "font": "Liberation Sans",
      "fontSize": 9,
      "fontWeight": "normal",
      "color": "#000000"
    }
  }
}
